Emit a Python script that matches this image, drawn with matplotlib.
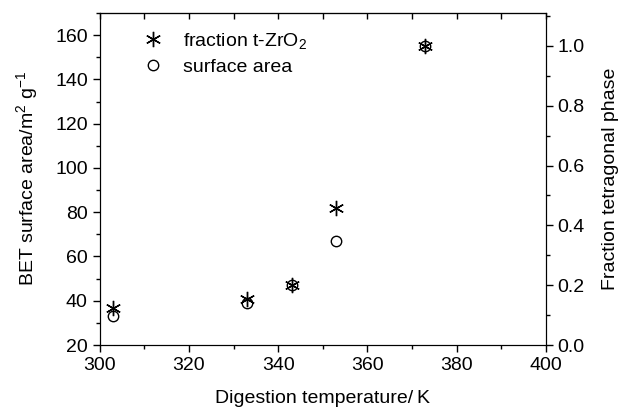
import matplotlib
matplotlib.use("Agg")
import matplotlib.pyplot as plt
from matplotlib.ticker import MultipleLocator

plt.rcParams['font.family'] = ['Liberation Sans', 'DejaVu Sans']
plt.rcParams['mathtext.default'] = 'regular'
plt.rcParams['font.size'] = 14

temps = [303, 333, 343, 353, 373]
area = [33, 39, 47, 67, 155]
fraction = [0.125, 0.155, 0.2, 0.458, 1.0]

fig = plt.figure(figsize=(6.21, 4.12), dpi=100)
ax = fig.add_axes([0.1605, 0.1626, 0.7185, 0.8058])
ax2 = ax.twinx()

c, = ax.plot(temps, area, 'o', mfc='none', mec='black', ms=7.5, mew=1.0,
             label='surface area')
s, = ax2.plot(temps, fraction, marker=(6, 2, 0), ls='none', color='black',
              ms=11, mew=1.0, label='fraction t-ZrO$_2$')

ax.set_xlim(300, 400)
ax.set_ylim(20, 170)
ax2.set_ylim(0, 1.11)

ax.xaxis.set_major_locator(MultipleLocator(20))
ax.xaxis.set_minor_locator(MultipleLocator(10))
ax.yaxis.set_major_locator(MultipleLocator(20))
ax.yaxis.set_minor_locator(MultipleLocator(10))
ax2.yaxis.set_major_locator(MultipleLocator(0.2))
ax2.yaxis.set_minor_locator(MultipleLocator(0.1))
ax2.yaxis.set_major_formatter(plt.FormatStrFormatter('%.1f'))

ax.tick_params(which='both', direction='out', top=False, width=1)
ax.tick_params(which='major', length=5)
ax.tick_params(which='minor', length=3)
ax2.tick_params(which='both', direction='out', width=1)
ax2.tick_params(which='major', length=5)
ax2.tick_params(which='minor', length=3)
# ticks on the top edge point inward
top = ax.secondary_xaxis('top')
top.xaxis.set_major_locator(MultipleLocator(10))
top.tick_params(direction='in', length=4, labeltop=False, width=1)

ax.set_xlabel('Digestion temperature/\u2009K', labelpad=12)
ax.set_ylabel('BET surface area/m$^2$ g$^{-1}$', labelpad=11)
ax2.set_ylabel('Fraction tetragonal phase', labelpad=12)

ax.legend([s, c], ['fraction t-ZrO$_2$', 'surface area'], loc='upper left',
          frameon=False, handletextpad=0.55, borderaxespad=0,
          labelspacing=0.4, bbox_to_anchor=(0.058, 0.97))

fig.savefig('out.png', dpi=100)
